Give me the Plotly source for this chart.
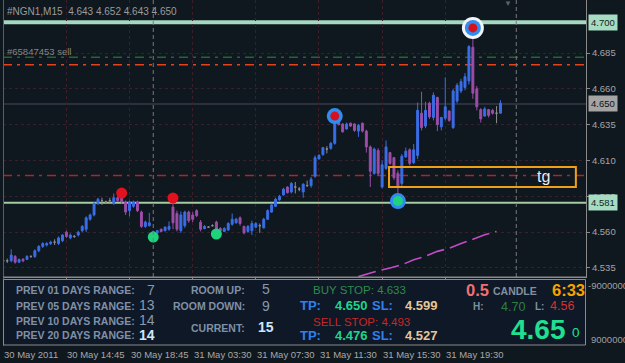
import plotly.graph_objects as go

# ---------------- data ----------------
title_text = "#NGN1,M15\u00a0\u00a04.643 4.652 4.643 4.650"
order_text = "#65847453 sell"

opens = [4.540, 4.540, 4.540, 4.543, 4.539, 4.541, 4.541, 4.543, 4.543, 4.547,
         4.550, 4.551, 4.552, 4.553, 4.552, 4.554, 4.560, 4.556, 4.557, 4.558,
         4.561, 4.562, 4.569, 4.572, 4.580, 4.582, 4.581, 4.582, 4.580, 4.584,
         4.585, 4.581, 4.575, 4.578, 4.581, 4.574, 4.564, 4.5645, 4.558, 4.5595,
         4.562, 4.561, 4.562, 4.5775, 4.573, 4.561, 4.5645, 4.574, 4.572, 4.575,
         4.567, 4.5625, 4.5635, 4.5645, 4.567, 4.5625, 4.5605, 4.5615, 4.5655, 4.5665,
         4.570, 4.564, 4.5605, 4.561, 4.5635, 4.5645, 4.563, 4.569, 4.574, 4.578,
         4.5825, 4.586, 4.5915, 4.588, 4.5915, 4.590, 4.588, 4.5925, 4.5925, 4.599,
         4.611, 4.614, 4.618, 4.6185, 4.622, 4.640, 4.6355, 4.632, 4.636, 4.6355,
         4.6305, 4.636, 4.6305, 4.6195, 4.601, 4.617, 4.5915, 4.6045, 4.6155, 4.612,
         4.601, 4.594, 4.6125, 4.6175, 4.6085, 4.6135, 4.643, 4.634, 4.650, 4.640,
         4.654, 4.6335, 4.6395, 4.6445, 4.633, 4.6515, 4.6585, 4.661, 4.6655, 4.689,
         4.660, 4.6455, 4.641, 4.6455, 4.645, 4.643, 4.643]
highs = [4.541, 4.5415, 4.548, 4.544, 4.5415, 4.542, 4.544, 4.544, 4.548, 4.551,
         4.553, 4.553, 4.554, 4.555, 4.557, 4.5585, 4.561, 4.559, 4.558, 4.561,
         4.565, 4.571, 4.573, 4.581, 4.584, 4.584, 4.582, 4.584, 4.587, 4.585,
         4.587, 4.582, 4.582, 4.582, 4.582, 4.575, 4.568, 4.5735, 4.561, 4.5615,
         4.5625, 4.564, 4.5675, 4.5825, 4.575, 4.5745, 4.575, 4.575, 4.574, 4.576,
         4.5685, 4.565, 4.564, 4.5655, 4.568, 4.5635, 4.5635, 4.567, 4.573, 4.570,
         4.571, 4.5645, 4.565, 4.568, 4.567, 4.566, 4.570, 4.576, 4.580, 4.584,
         4.586, 4.591, 4.592, 4.595, 4.595, 4.5915, 4.594, 4.596, 4.5985, 4.6135,
         4.6145, 4.6195, 4.620, 4.623, 4.6415, 4.6405, 4.636, 4.6365, 4.6365, 4.636,
         4.6355, 4.6365, 4.6315, 4.6205, 4.619, 4.6185, 4.610, 4.624, 4.616, 4.6125,
         4.603, 4.6145, 4.619, 4.6185, 4.6215, 4.6505, 4.658, 4.651, 4.651, 4.6575,
         4.6545, 4.6405, 4.668, 4.645, 4.660, 4.664, 4.667, 4.671, 4.6905, 4.700,
         4.662, 4.6465, 4.6475, 4.646, 4.646, 4.648, 4.652]
lows = [4.539, 4.5385, 4.539, 4.538, 4.5385, 4.539, 4.5405, 4.542, 4.542, 4.546,
        4.549, 4.550, 4.551, 4.551, 4.551, 4.553, 4.556, 4.555, 4.556, 4.557,
        4.560, 4.560, 4.568, 4.571, 4.579, 4.579, 4.580, 4.580, 4.579, 4.581,
        4.580, 4.572, 4.571, 4.577, 4.574, 4.563, 4.563, 4.564, 4.557, 4.559,
        4.560, 4.5605, 4.561, 4.562, 4.5605, 4.5595, 4.563, 4.5665, 4.567, 4.5705,
        4.5605, 4.562, 4.563, 4.564, 4.559, 4.5605, 4.560, 4.561, 4.5645, 4.566,
        4.5645, 4.5585, 4.5595, 4.558, 4.563, 4.5595, 4.5625, 4.5685, 4.5735, 4.5775,
        4.582, 4.5855, 4.587, 4.587, 4.587, 4.5885, 4.584, 4.5915, 4.591, 4.598,
        4.611, 4.6135, 4.615, 4.6175, 4.621, 4.6345, 4.6295, 4.6315, 4.6335, 4.630,
        4.6265, 4.6295, 4.6155, 4.5915, 4.600, 4.5995, 4.5905, 4.6035, 4.607, 4.5965,
        4.5805, 4.592, 4.612, 4.6065, 4.6075, 4.611, 4.631, 4.6325, 4.639, 4.638,
        4.6305, 4.631, 4.638, 4.637, 4.632, 4.650, 4.657, 4.659, 4.663, 4.653,
        4.645, 4.6365, 4.6405, 4.640, 4.642, 4.636, 4.643]
closes = [4.540, 4.540, 4.544, 4.539, 4.541, 4.540, 4.543, 4.543, 4.547, 4.550,
          4.552, 4.552, 4.553, 4.553, 4.556, 4.558, 4.557, 4.558, 4.557, 4.560,
          4.564, 4.570, 4.572, 4.580, 4.583, 4.582, 4.581, 4.582, 4.584, 4.582,
          4.581, 4.574, 4.581, 4.581, 4.575, 4.564, 4.567, 4.5665, 4.5605, 4.561,
          4.5605, 4.5635, 4.564, 4.5665, 4.562, 4.572, 4.574, 4.568, 4.569, 4.5715,
          4.562, 4.564, 4.5635, 4.5645, 4.561, 4.561, 4.5625, 4.566, 4.569, 4.569,
          4.566, 4.5595, 4.564, 4.566, 4.566, 4.5645, 4.569, 4.575, 4.579, 4.583,
          4.585, 4.590, 4.5875, 4.594, 4.5915, 4.590, 4.5935, 4.5925, 4.597, 4.612,
          4.6135, 4.619, 4.618, 4.622, 4.640, 4.635, 4.630, 4.6355, 4.634, 4.631,
          4.6345, 4.6305, 4.6195, 4.6025, 4.618, 4.601, 4.607, 4.6195, 4.608, 4.598,
          4.592, 4.613, 4.6165, 4.608, 4.6175, 4.645, 4.633, 4.645, 4.6405, 4.6555,
          4.635, 4.640, 4.6475, 4.638, 4.6585, 4.6625, 4.665, 4.6685, 4.6895, 4.657,
          4.6475, 4.639, 4.646, 4.6415, 4.643, 4.643, 4.650]
bars = list(range(len(closes)))

time_tick_bars = [0, 16, 32, 48, 64, 80, 96, 112]
time_tick_labels = ["30 May 2011", "30 May 14:45", "30 May 18:45", "31 May 03:30",
                    "31 May 07:30", "31 May 11:30", "31 May 15:30", "31 May 19:30"]
price_ticks = [4.535, 4.560, 4.585, 4.610, 4.635, 4.660, 4.685]

# signal markers
fractal_up_bars, fractal_up_prices = [30, 43], [4.5873, 4.5838]
fractal_dn_bars, fractal_dn_prices = [38, 54], [4.5566, 4.5587]
swing_high_bars, swing_high_prices = [84, 119], [4.6410, 4.7025]
swing_low_bars, swing_low_prices = [100], [4.5817]
top_swing_bar, top_swing_price = [119], [4.7025]

# moving average (visible part)
ma_bars = [90, 92, 95, 98, 101, 104, 107, 110, 113, 116, 119, 122, 125]
ma_values = [4.5290, 4.5307, 4.5330, 4.5350, 4.5372, 4.5408, 4.5432, 4.5466, 4.5487,
             4.5520, 4.5550, 4.5582, 4.5605]

# chart objects
top_line_price, top_line_label = 4.7065, "4.700"
tp_green_line = 4.6820
sell_order_line = 4.6768
bid_price, bid_label = 4.6495, "4.650"
sl_red_line = 4.5995
support_price, support_label = 4.5805, "4.581"
separator_bars = [38, 130]
tg_box_bars = [97.75, 145.1]
tg_box_prices = [4.5915, 4.6055]
tg_text, tg_bar, tg_price = "tg", 136.8, 4.5985

# ---------------- figure ----------------
BG = "#0f171f"
AX = "#8a8a8a"
FONT = "Arial, Liberation Sans, sans-serif"
W, H = 625, 363
L, R, T, B = 3, 39, 0, 17
PW, PH = W - L - R, H - T - B
Y_MIN, Y_MAX = 4.5287, 4.7220


def px(x):
    return (x - L) / PW


def py(y):
    return (T + PH - y) / PH


fig = go.Figure()

bull = [i for i in bars if closes[i] > opens[i]]
bear = [i for i in bars if closes[i] < opens[i]]
doji = [i for i in bars if closes[i] == opens[i]]
for idx, col in ((bull, "#3a6ee8"), (bear, "#9c4ea8"), (doji, "#8c8c8c")):
    fig.add_trace(go.Candlestick(
        x=[bars[i] for i in idx], open=[opens[i] for i in idx], high=[highs[i] for i in idx],
        low=[lows[i] for i in idx], close=[closes[i] for i in idx],
        increasing=dict(line=dict(color=col, width=1), fillcolor=col),
        decreasing=dict(line=dict(color=col, width=1), fillcolor=col),
        whiskerwidth=0, showlegend=False, hoverinfo="skip", xaxis="x", yaxis="y"))

fig.add_trace(go.Scatter(x=ma_bars, y=ma_values, mode="lines",
                         line=dict(color="#c24cc4", width=1.6, dash="18px,6px"),
                         showlegend=False, hoverinfo="skip"))

fig.add_trace(go.Scatter(x=fractal_up_bars, y=fractal_up_prices, mode="markers",
                         marker=dict(size=11, color="#e3101e"), showlegend=False, hoverinfo="skip"))
fig.add_trace(go.Scatter(x=fractal_dn_bars, y=fractal_dn_prices, mode="markers",
                         marker=dict(size=11, color="#1ed27e"), showlegend=False, hoverinfo="skip"))
fig.add_trace(go.Scatter(x=top_swing_bar, y=top_swing_price, mode="markers",
                         marker=dict(size=22, color="#f2f4f6"), showlegend=False, hoverinfo="skip"))
fig.add_trace(go.Scatter(x=swing_high_bars + swing_low_bars, y=swing_high_prices + swing_low_prices,
                         mode="markers", marker=dict(size=16, color="#2f8cf0"),
                         showlegend=False, hoverinfo="skip"))
fig.add_trace(go.Scatter(x=swing_high_bars, y=swing_high_prices, mode="markers",
                         marker=dict(size=9, color="#d8101c"), showlegend=False, hoverinfo="skip"))
fig.add_trace(go.Scatter(x=swing_low_bars, y=swing_low_prices, mode="markers",
                         marker=dict(size=10, color="#1ed27e"), showlegend=False, hoverinfo="skip"))

shapes = []


def hline(y, color, width, dash="solid"):
    shapes.append(dict(type="line", xref="paper", yref="y", x0=0, x1=1, y0=y, y1=y,
                       line=dict(color=color, width=width, dash=dash), layer="below"))


hline(top_line_price, "#a4d8c0", 4)
hline(tp_green_line, "#1d6a2c", 1.5, "9px,5px,3px,5px")
hline(sell_order_line, "#e2421c", 1.5, "9px,5px,3px,5px")
hline(bid_price, "#3a3848", 1.5)
hline(sl_red_line, "#b42222", 1.5, "9px,5px,3px,5px")
hline(support_price, "#a4cca0", 2)

for sb in separator_bars:
    shapes.append(dict(type="line", xref="x", yref="y", x0=sb, x1=sb, y0=Y_MIN, y1=Y_MAX,
                       line=dict(color="#7a7a7a", width=1, dash="4px,3px"), layer="above"))

shapes.append(dict(type="rect", xref="x", yref="y", x0=tg_box_bars[0], x1=tg_box_bars[1],
                   y0=tg_box_prices[0], y1=tg_box_prices[1],
                   line=dict(color="#f0a018", width=2), layer="above"))

# frame lines
shapes.append(dict(type="line", xref="paper", yref="paper", x0=px(3.5), x1=px(3.5), y0=py(0), y1=py(346),
                   line=dict(color="#5c5c5c", width=1), layer="above"))
shapes.append(dict(type="line", xref="paper", yref="paper", x0=px(3), x1=1, y0=py(277), y1=py(277),
                   line=dict(color=AX, width=1), layer="above"))
# indicator panel
shapes.append(dict(type="rect", xref="paper", yref="paper", x0=px(3.5), x1=px(585.5),
                   y0=py(345), y1=py(279.5), fillcolor="#0e1826",
                   line=dict(color=AX, width=1), layer="above"))

annotations = []


def txt(x, y, s, color, size, bold=False, anchor="left"):
    annotations.append(dict(x=px(x), y=py(y), xref="paper", yref="paper",
                            text=f"<b>{s}</b>" if bold else s, showarrow=False,
                            xanchor=anchor, yanchor="middle", borderpad=0,
                            font=dict(color=color, size=size, family=FONT)))


txt(6, 12, title_text, "#9c9c9c", 10)
txt(6, 51, order_text, "#858585", 9.5)
txt(508, 4, "\u25bc", "#59606e", 8, anchor="center")

# right price labels
for yv, lab, bg, fg in ((top_line_price, top_line_label, "#a6dcc2", "#14241c"),
                        (bid_price, bid_label, "#a4a4a4", "#101010"),
                        (support_price, support_label, "#a6dcc2", "#14241c")):
    annotations.append(dict(x=1, y=yv, xref="paper", yref="y", xanchor="left", yanchor="middle",
                            xshift=2, text=lab, showarrow=False, bgcolor=bg, borderpad=2,
                            font=dict(color=fg, size=9.5, family=FONT)))

annotations.append(dict(x=tg_bar, y=tg_price, xref="x", yref="y", text=tg_text, showarrow=False,
                        font=dict(color="#e8eaf0", size=16, family=FONT)))

# x axis labels (left aligned at ticks)
for b, lab in zip(time_tick_bars, time_tick_labels):
    annotations.append(dict(x=b, y=py(355), xref="x", yref="paper", text=lab, showarrow=False,
                            xanchor="left", yanchor="middle", xshift=-1,
                            font=dict(color="#a8a8a8", size=9.5, family=FONT)))

# sub window axis labels (cut by the window edge, as in the original)
txt(587, 285, "-9000000", "#a0a0a0", 9.5)
txt(590, 339, "9000000", "#a0a0a0", 9.5)

# indicator panel texts
LBL = "#8090a6"
txt(15, 290, "PREV 01 DAYS RANGE:", LBL, 10.5, True)
txt(15, 305.5, "PREV 05 DAYS RANGE:", LBL, 10.5, True)
txt(15, 320.5, "PREV 10 DAYS RANGE:", LBL, 10.5, True)
txt(15, 335, "PREV 20 DAYS RANGE:", LBL, 10.5, True)
txt(156, 290, "7", "#8898ae", 14, anchor="right")
txt(156, 305, "13", "#8898ae", 14, anchor="right")
txt(156, 319.5, "14", "#8898ae", 14, anchor="right")
txt(156, 334.5, "14", "#cfe6ff", 14, True, anchor="right")
txt(246, 290, "ROOM UP:", LBL, 10.5, True, anchor="right")
txt(246, 306, "ROOM DOWN:", LBL, 10.5, True, anchor="right")
txt(246, 328, "CURRENT:", LBL, 10.5, True, anchor="right")
txt(261, 289, "5", "#8898ae", 14)
txt(261, 306, "9", "#8898ae", 14)
txt(257, 327, "15", "#cfe6ff", 14, True)

txt(312, 290, "BUY STOP: 4.633", "#2e8b4c", 11.5)
txt(312, 321.5, "SELL STOP: 4.493", "#c42828", 11.5)
for yy, tpv, slv in ((305, "4.650", "4.599"), (335.5, "4.476", "4.527")):
    txt(299, yy, "TP:", "#2f80f0", 13, True)
    txt(334, yy, tpv, "#1fd58a", 13, True)
    txt(371, yy, "SL:", "#2f80f0", 13, True)
    txt(404, yy, slv, "#e6c59a", 13, True)

txt(465, 290, "0.5", "#f07070", 16.5, True)
txt(492, 290.5, "CANDLE", "#8090a0", 10.5, True)
txt(551, 290, "6:33", "#f5a400", 16.5, True)
txt(472, 306.5, "H:", "#8090a0", 10, True)
txt(500, 306.5, "4.70", "#2e8040", 12.5)
txt(534, 306.5, "L:", "#8090a0", 10, True)
txt(549, 306, "4.56", "#d83030", 12.5)
txt(510, 329, "4.65", "#20e090", 28, True)
txt(571, 332, "0", "#20e090", 13.5)

GRID = "#3d1e2b"
fig.update_layout(
    width=W, height=H, margin=dict(l=L, r=R, t=T, b=B, pad=0),
    paper_bgcolor=BG, plot_bgcolor=BG, showlegend=False, boxgap=0.3,
    xaxis=dict(range=[-0.076, 147.67], anchor="y2", tickvals=time_tick_bars, showticklabels=False,
               ticks="outside", ticklen=4, tickcolor=AX, showline=True, linecolor=AX,
               showgrid=True, gridcolor=GRID, griddash="dot", zeroline=False,
               rangeslider=dict(visible=False), fixedrange=True),
    yaxis=dict(domain=[py(277), 1], range=[Y_MIN, Y_MAX], side="right",
               tickvals=price_ticks, ticktext=[f"{v:.3f}" for v in price_ticks],
               ticks="outside", ticklen=3, tickcolor=AX,
               tickfont=dict(color="#a6a6a6", size=9.5, family=FONT),
               showline=True, linecolor=AX, showgrid=True, gridcolor=GRID, griddash="dot",
               zeroline=False, fixedrange=True),
    yaxis2=dict(domain=[0, py(279)], range=[0, 1], visible=False, fixedrange=True),
    shapes=shapes, annotations=annotations,
)

fig.write_html("out.html")
